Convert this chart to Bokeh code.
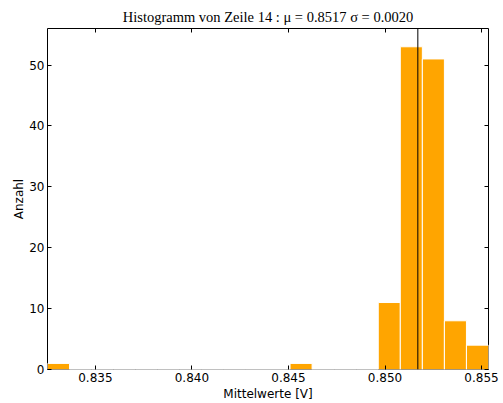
import numpy as np
from bokeh.plotting import figure
from bokeh.models import LinearAxis, FixedTicker, Span, Range1d, PrintfTickFormatter, CustomJSTickFormatter
from bokeh.embed import file_html
from bokeh.resources import INLINE

# data
x_min = 0.83252
x_max = 0.85536
n_bins = 20
counts = [1, 0, 0, 0, 0, 0, 0, 0, 0, 0, 0, 1, 0, 0, 0, 11, 53, 51, 8, 4]
mean_val = 0.8517
x_ticks = [0.835, 0.840, 0.845, 0.850, 0.855]
y_ticks = [0, 10, 20, 30, 40, 50]
title_text = "Histogramm von Zeile 14 : μ = 0.8517 σ = 0.0020"

edges = np.linspace(x_min, x_max, n_bins + 1)

p = figure(width=503, height=403, output_backend="svg", toolbar_location=None,
           x_range=Range1d(x_min, x_max), y_range=Range1d(0, 56),
           min_border_left=47, min_border_right=15, min_border_top=28, min_border_bottom=34)
p.title.text = title_text
p.title.text_font = "Liberation Serif"
p.title.text_font_size = "14.5px"
p.title.text_font_style = "normal"
p.title.text_color = "black"
p.title.align = "center"
p.title.offset = 0
p.title.standoff = 8

p.quad(left=edges[:-1], right=edges[1:], bottom=0, top=counts,
       fill_color="#FFA500", line_color="white", line_width=1)
p.add_layout(Span(location=mean_val, dimension="height", line_color="black", line_width=1))

p.xgrid.visible = False
p.ygrid.visible = False
p.outline_line_color = "black"
p.outline_line_width = 1
p.outline_line_alpha = 1

for ax, ticks in ((p.xaxis[0], x_ticks), (p.yaxis[0], y_ticks)):
    ax.ticker = FixedTicker(ticks=ticks)
    ax.minor_tick_line_color = None
    ax.major_tick_in = 4
    ax.major_tick_out = 0
    ax.axis_line_color = None
    ax.major_label_text_font = "DejaVu Sans"
    ax.major_label_text_font_size = "12px"
    ax.major_label_text_color = "black"
    ax.axis_label_text_font = "DejaVu Sans"
    ax.axis_label_text_font_size = "12px"
    ax.axis_label_text_font_style = "normal"
    ax.axis_label_text_color = "black"
    ax.major_label_standoff = 3
    ax.axis_label_standoff = 2

p.xaxis[0].formatter = PrintfTickFormatter(format="%.3f")
p.xaxis[0].axis_label = "Mittelwerte [V]"
p.yaxis[0].axis_label = "Anzahl"
p.yaxis[0].axis_label_standoff = 0

for loc, ticks in (("above", x_ticks), ("right", y_ticks)):
    ax = LinearAxis(ticker=FixedTicker(ticks=ticks))
    ax.formatter = CustomJSTickFormatter(code="return ''")
    ax.minor_tick_line_color = None
    ax.major_tick_in = 4
    ax.major_tick_out = 0
    ax.axis_line_color = None
    ax.major_label_standoff = 0
    p.add_layout(ax, loc)

open("out.html", "w").write(file_html(p, INLINE))
